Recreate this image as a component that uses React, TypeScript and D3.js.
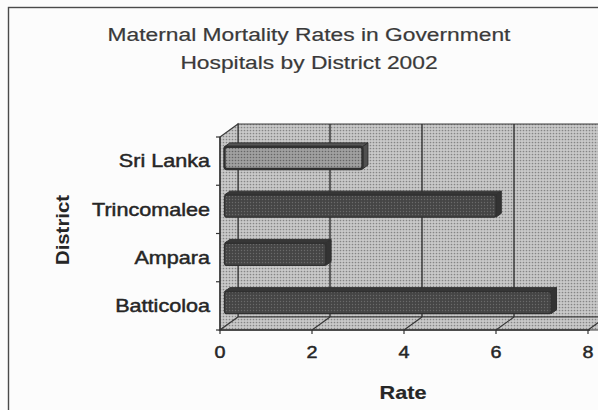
import React from "react";
import * as d3 from "d3";

// Maternal mortality rates per district, 2002
const categories = ["Sri Lanka", "Trincomalee", "Ampara", "Batticoloa"];
const rates = [3.0, 5.9, 2.2, 7.1];
const xTicks = [0, 2, 4, 6, 8];
const titleLines = ["Maternal Mortality Rates in Government", "Hospitals by District 2002"];

const W = 598;
const H = 410;
const FONT = "'Liberation Sans', Arial, sans-serif";
const STRETCH = 1.22; // wide-set lettering

// oblique projection of the depth axis
const DEPTH = { dx: 18, dy: -13 };

export default function App() {
  const x = d3.scaleLinear().domain([0, 8]).range([220, 588]);
  const y = d3.scaleBand<string>().domain(categories).range([137, 330]);
  const bw = y.bandwidth();

  const left = x(0);
  const right = x(8);
  const top = y.range()[0];
  const bottom = y.range()[1];
  const back = (px: number, py: number, t = 1): [number, number] => [px + DEPTH.dx * t, py + DEPTH.dy * t];
  const pts = (arr: [number, number][]) => arr.map((p) => p.join(",")).join(" ");

  // bars sit between these depth fractions
  const t0 = 0.25;
  const t1 = 0.55;
  const faceH = bw * 0.46;

  const wallBack = pts([back(left, top), back(right + 30, top), back(right + 30, bottom), back(left, bottom)]);
  const sideWall = pts([[left, top], back(left, top), back(left, bottom), [left, bottom]]);
  const floor = pts([[left, bottom], [right + 30, bottom], back(right + 30, bottom), back(left, bottom)]);

  const stretchText = (
    key: string,
    tx: number,
    ty: number,
    text: string,
    size: number,
    anchor: "start" | "middle" | "end",
    weight: string | number = "normal",
    heavy = 0.45,
    color = "#262626"
  ) => (
    <g key={key} transform={`translate(${tx},${ty}) scale(${STRETCH},1)`}>
      <text
        x={0}
        y={0}
        textAnchor={anchor}
        fontSize={size}
        fontWeight={weight}
        fill={color}
        stroke={color}
        strokeWidth={heavy}
        fontFamily={FONT}
      >
        {text}
      </text>
    </g>
  );

  return (
    <svg width={W} height={H} style={{ position: "absolute", left: 0, top: 0, background: "#fcfcfc" }}>
      <defs>
        <pattern id="halftone" width="3" height="3" patternUnits="userSpaceOnUse">
          <rect width="3" height="3" fill="#c9c9c9" />
          <circle cx="1.5" cy="1.5" r="0.85" fill="#858585" />
        </pattern>
        <pattern id="barTone" width="3" height="3" patternUnits="userSpaceOnUse">
          <rect width="3" height="3" fill="#454545" />
          <circle cx="1.5" cy="1.5" r="0.7" fill="#6a6a6a" />
        </pattern>
        <pattern id="barToneLight" width="3" height="3" patternUnits="userSpaceOnUse">
          <rect width="3" height="3" fill="#a0a0a0" />
          <circle cx="1.5" cy="1.5" r="0.8" fill="#666" />
        </pattern>
      </defs>

      {/* chart frame */}
      <rect x={8.5} y={7.5} width={W + 20} height={H + 20} fill="none" stroke="#4a4a4a" strokeWidth={1.4} />

      {/* title */}
      {titleLines.map((t, i) => stretchText(`title-${i}`, 309, 40.7 + i * 28.6, t, 18.7, "middle", "normal", 0.2, "#3a3a3a"))}

      {/* walls and floor */}
      <polygon points={wallBack} fill="url(#halftone)" stroke="#3c3c3c" strokeWidth={1.2} />
      <polygon points={sideWall} fill="url(#halftone)" stroke="#3c3c3c" strokeWidth={1.2} />
      <polygon points={floor} fill="url(#halftone)" stroke="#3c3c3c" strokeWidth={1.2} />

      {/* gridlines on the back wall and floor */}
      {xTicks.filter((v) => v > 0).map((v) => {
        const [bx, by] = back(x(v), bottom);
        const [, ty] = back(x(v), top);
        return (
          <g key={`grid-${v}`}>
            <line x1={bx} y1={ty} x2={bx} y2={by} stroke="#333" strokeWidth={1.4} />
            <line x1={x(v)} y1={bottom} x2={bx} y2={by} stroke="#333" strokeWidth={1.1} />
          </g>
        );
      })}

      {/* bars */}
      {categories.map((c, i) => {
        const v = rates[i];
        const cy = (y(c) as number) + bw / 2;
        const [fx0, fy0] = back(x(0), cy - faceH / 2, t0);
        const [fx1] = back(x(v), cy, t0);
        const ddx = DEPTH.dx * (t1 - t0);
        const ddy = DEPTH.dy * (t1 - t0);
        const fy1 = fy0 + faceH;
        const light = i === 0;
        const topFace = pts([[fx0, fy0], [fx1, fy0], [fx1 + ddx, fy0 + ddy], [fx0 + ddx, fy0 + ddy]]);
        const endFace = pts([[fx1, fy0], [fx1 + ddx, fy0 + ddy], [fx1 + ddx, fy1 + ddy], [fx1, fy1]]);
        return (
          <g key={c}>
            <polygon points={topFace} fill={light ? "#555" : "#363636"} stroke="#303030" strokeWidth={1} strokeLinejoin="round" />
            <polygon points={endFace} fill={light ? "#505050" : "#333"} stroke="#303030" strokeWidth={1} strokeLinejoin="round" />
            <rect
              x={fx0}
              y={fy0}
              width={fx1 - fx0}
              height={faceH}
              rx={2.5}
              fill={light ? "url(#barToneLight)" : "url(#barTone)"}
              stroke="#303030"
              strokeWidth={light ? 2.4 : 1.2}
            />
          </g>
        );
      })}

      {/* value axis along the front edge of the floor */}
      <line x1={left} y1={bottom} x2={right + 2} y2={bottom} stroke="#333" strokeWidth={1.4} />
      {xTicks.map((v) => (
        <g key={`tick-${v}`}>
          <line x1={x(v)} y1={bottom} x2={x(v)} y2={bottom + 4} stroke="#333" strokeWidth={1.2} />
          {stretchText(`tl-${v}`, x(v), 357.5, String(v), 16.2, "middle")}
        </g>
      ))}

      {/* category axis */}
      <line x1={left} y1={top} x2={left} y2={bottom} stroke="#333" strokeWidth={1.4} />
      {[...categories.map((c) => y(c) as number), bottom].map((py, i) => (
        <line key={`ct-${i}`} x1={left - 4} y1={py} x2={left} y2={py} stroke="#333" strokeWidth={1.2} />
      ))}
      {categories.map((c) => stretchText(`cl-${c}`, 210, (y(c) as number) + bw / 2 + 6.3, c, 17.7, "end"))}

      {/* axis titles */}
      {stretchText("x-title", 403, 399.3, "Rate", 17.7, "middle", "bold", 0.2)}
      <g transform={`translate(69,230) rotate(-90) scale(1.15,1)`}>
        <text x={0} y={0} textAnchor="middle" fontSize={17.7} fontWeight="bold" fill="#262626" fontFamily={FONT}>
          District
        </text>
      </g>
    </svg>
  );
}
